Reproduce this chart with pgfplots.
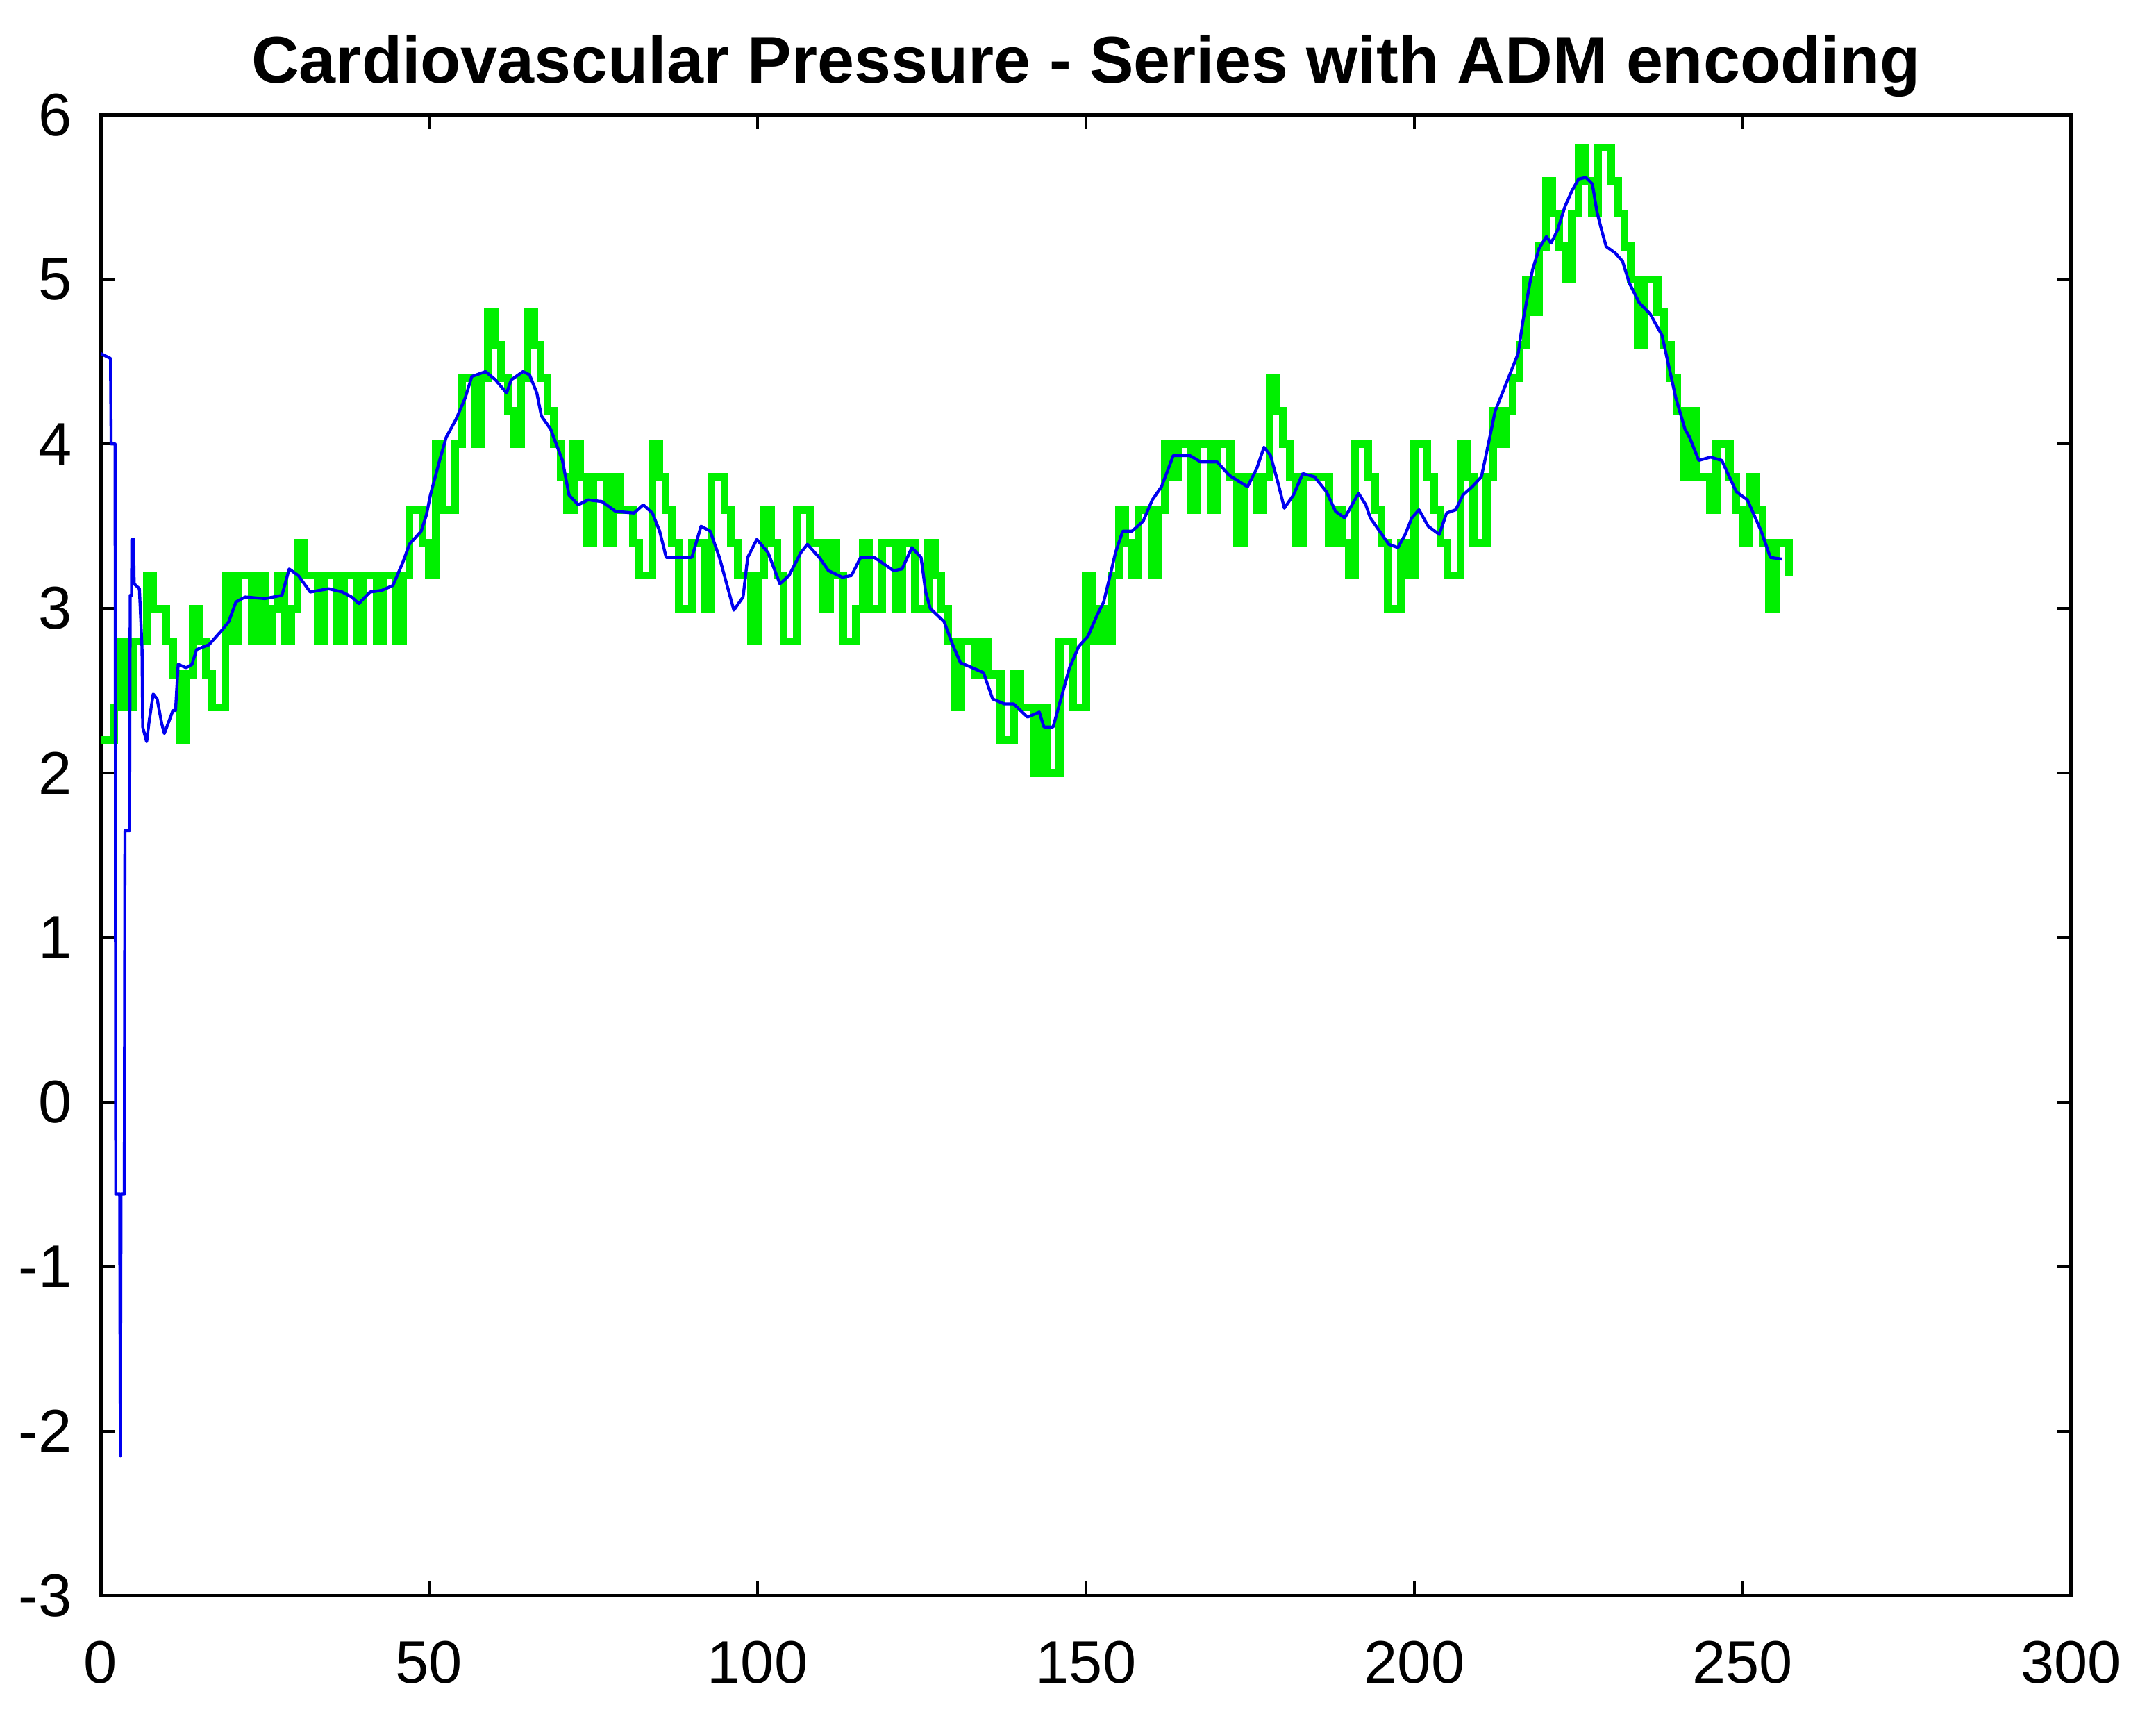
\documentclass[border=0pt]{standalone}
\usepackage{fontspec}
\setmainfont{Liberation Sans}
\usepackage{pgfplots}
\pgfplotsset{compat=1.18}
\definecolor{admgreen}{RGB}{0,240,0}
\definecolor{sigblue}{RGB}{0,0,240}
\begin{document}
\begin{tikzpicture}
\path[use as bounding box] (-16.74pt,-20.8pt) rectangle (341.8pt,265.3pt);
\begin{axis}[
  at={(0pt,0pt)}, anchor=south west,
  scale only axis, width=327.7pt, height=246.2pt,
  xmin=0, xmax=300, ymin=-3, ymax=6,
  xtick={0,50,...,300}, ytick={-3,-2,...,6},
  tick align=inside, major tick length=2.4pt,
  every tick/.style={black, line width=0.45pt},
  axis line style={black, line width=0.6pt},
  /pgf/number format/assume math mode=true,
  ticklabel style={font=\fontsize{10}{12}\selectfont, text=black},
  xticklabel style={yshift=-4pt},
  yticklabel style={xshift=-1.2pt},
  title={Cardiovascular Pressure - Series with ADM encoding},
  title style={font=\fontsize{11}{13}\selectfont\bfseries, at={(0.5,1)}, anchor=base, yshift=-0.7pt},
  clip=true,
]
\addplot[admgreen, line width=1.3pt, const plot mark left] coordinates {
(0,2.2)(1,2.2)(2,2.4)(3,2.8)(4,2.4)(5,2.8)(6,2.8)(7,3.2)(8,3.0)(9,3.0)
(10,2.8)(11,2.6)(12,2.2)(13,2.6)(14,3.0)(15,2.8)(16,2.6)(17,2.4)(18,2.4)(19,3.2)
(20,2.8)(21,3.2)(22,3.2)(23,2.8)(24,3.2)(25,2.8)(26,3.0)(27,3.2)(28,2.8)(29,3.0)
(30,3.4)(31,3.2)(32,3.2)(33,2.8)(34,3.2)(35,3.2)(36,2.8)(37,3.2)(38,3.2)(39,2.8)
(40,3.2)(41,3.2)(42,2.8)(43,3.2)(44,3.2)(45,2.8)(46,3.2)(47,3.6)(48,3.6)(49,3.4)
(50,3.2)(51,4.0)(52,3.6)(53,3.6)(54,4.0)(55,4.4)(56,4.4)(57,4.0)(58,4.4)(59,4.8)
(60,4.6)(61,4.4)(62,4.2)(63,4.0)(64,4.4)(65,4.8)(66,4.6)(67,4.4)(68,4.2)(69,4.0)
(70,3.8)(71,3.6)(72,4.0)(73,3.8)(74,3.4)(75,3.8)(76,3.8)(77,3.4)(78,3.8)(79,3.6)
(80,3.6)(81,3.4)(82,3.2)(83,3.2)(84,4.0)(85,3.8)(86,3.6)(87,3.4)(88,3.0)(89,3.0)
(90,3.4)(91,3.4)(92,3.0)(93,3.8)(94,3.8)(95,3.6)(96,3.4)(97,3.2)(98,3.2)(99,2.8)
(100,3.2)(101,3.6)(102,3.4)(103,3.2)(104,2.8)(105,2.8)(106,3.6)(107,3.6)(108,3.4)(109,3.4)
(110,3.0)(111,3.4)(112,3.2)(113,2.8)(114,2.8)(115,3.0)(116,3.4)(117,3.0)(118,3.0)(119,3.4)
(120,3.4)(121,3.0)(122,3.4)(123,3.4)(124,3.0)(125,3.0)(126,3.4)(127,3.2)(128,3.0)(129,2.8)
(130,2.4)(131,2.8)(132,2.8)(133,2.6)(134,2.8)(135,2.6)(136,2.6)(137,2.2)(138,2.2)(139,2.6)
(140,2.4)(141,2.4)(142,2.0)(143,2.4)(144,2.0)(145,2.0)(146,2.8)(147,2.8)(148,2.4)(149,2.4)
(150,3.2)(151,2.8)(152,3.0)(153,2.8)(154,3.2)(155,3.6)(156,3.4)(157,3.2)(158,3.6)(159,3.6)
(160,3.2)(161,3.6)(162,4.0)(163,3.8)(164,4.0)(165,4.0)(166,3.6)(167,4.0)(168,4.0)(169,3.6)
(170,4.0)(171,4.0)(172,3.8)(173,3.4)(174,3.8)(175,3.8)(176,3.6)(177,3.8)(178,4.4)(179,4.2)
(180,4.0)(181,3.8)(182,3.4)(183,3.8)(184,3.8)(185,3.8)(186,3.8)(187,3.4)(188,3.6)(189,3.4)
(190,3.2)(191,4.0)(192,4.0)(193,3.8)(194,3.6)(195,3.4)(196,3.0)(197,3.0)(198,3.4)(199,3.2)
(200,4.0)(201,4.0)(202,3.8)(203,3.6)(204,3.4)(205,3.2)(206,3.2)(207,4.0)(208,3.8)(209,3.4)
(210,3.4)(211,3.8)(212,4.2)(213,4.0)(214,4.2)(215,4.4)(216,4.6)(217,5.0)(218,4.8)(219,5.2)
(220,5.6)(221,5.4)(222,5.2)(223,5.0)(224,5.4)(225,5.8)(226,5.6)(227,5.4)(228,5.8)(229,5.8)
(230,5.6)(231,5.4)(232,5.2)(233,5.0)(234,4.6)(235,5.0)(236,5.0)(237,4.8)(238,4.6)(239,4.4)
(240,4.2)(241,3.8)(242,4.2)(243,3.8)(244,3.8)(245,3.6)(246,4.0)(247,4.0)(248,3.8)(249,3.6)
(250,3.4)(251,3.8)(252,3.6)(253,3.4)(254,3.0)(255,3.4)(256,3.4)(257,3.2)
};
\addplot[sigblue, line width=0.5pt, line join=round] coordinates {
(0.0,4.55)(1.5,4.52)(1.6,4.0)(2.2,4.0)(2.3,-0.56)(2.9,-0.56)(3.0,-2.15)(3.1,-0.56)(3.6,-0.56)
(3.7,1.65)(4.4,1.65)(4.5,3.08)(4.7,3.08)(4.75,3.42)(5.0,3.42)(5.1,3.15)(5.9,3.12)(6.3,2.76)
(6.4,2.28)(7.0,2.19)(7.4,2.32)(8.0,2.48)(8.6,2.45)(9.3,2.3)(9.7,2.24)(11.0,2.38)(11.4,2.38)
(11.8,2.66)(13.0,2.64)(13.9,2.66)(14.6,2.75)(16.5,2.78)(18.5,2.87)(19.5,2.92)(20.6,3.04)
(22,3.07)(25,3.06)(27.6,3.08)(28.7,3.24)(30.1,3.2)(31.9,3.1)(34.7,3.12)(36.8,3.1)(38.2,3.07)
(39.3,3.03)(41,3.1)(42.8,3.11)(44.5,3.14)(46,3.28)(47,3.39)(48.8,3.47)(49.6,3.57)(50.2,3.69)
(51.6,3.9)(52.6,4.04)(54.1,4.15)(55.5,4.28)(56.5,4.41)(58.6,4.44)(60.1,4.39)(61.8,4.31)
(62.5,4.39)(64.3,4.44)(65.3,4.42)(66.4,4.31)(67.1,4.17)(68.5,4.09)(70.3,3.9)(71.3,3.69)
(72.7,3.63)(74.2,3.66)(76.3,3.65)(78.4,3.59)(81.2,3.58)(82.6,3.63)(84,3.58)(85.1,3.47)
(86.1,3.31)(88.3,3.31)(90,3.31)(91.4,3.5)(92.8,3.47)(94.2,3.31)(95.3,3.15)(96.4,2.99)
(97.8,3.07)(98.5,3.31)(99.9,3.42)(101.6,3.34)(103.4,3.15)(104.8,3.2)(106.6,3.34)(107.6,3.39)
(109.4,3.31)(110.8,3.23)(112.9,3.19)(114.3,3.2)(115.7,3.31)(117.8,3.31)(120.7,3.23)(122,3.24)
(123.5,3.37)(124.9,3.31)(125.6,3.1)(126.3,3.0)(128.4,2.92)(129.8,2.77)(130.9,2.67)(132.7,2.64)
(134.4,2.61)(135.8,2.45)(137.6,2.42)(139,2.42)(141.1,2.34)(142.9,2.37)(143.6,2.28)(145,2.28)
(146.4,2.48)(147.5,2.64)(148.9,2.77)(150.3,2.83)(151.7,2.96)(152.7,3.04)(153.8,3.22)(154.5,3.34)
(155.6,3.47)(157,3.47)(158.7,3.53)(160.1,3.66)(161.5,3.74)(163.3,3.93)(165.8,3.93)(167.5,3.89)
(170,3.89)(171.8,3.81)(174.6,3.74)(176,3.85)(177.1,3.98)(178.1,3.93)(179.2,3.77)(180.2,3.61)
(181.6,3.69)(183,3.82)(184.8,3.8)(186.6,3.71)(188,3.59)(189.4,3.55)(190.5,3.63)(191.5,3.7)
(192.6,3.63)(193.3,3.55)(194.7,3.47)(196.1,3.39)(197.5,3.37)(198.6,3.45)(199.6,3.55)(200.7,3.6)
(202.1,3.5)(203.8,3.45)(204.9,3.58)(206.3,3.6)(207.4,3.69)(208.8,3.74)(210.2,3.8)(210.9,3.93)
(212.3,4.2)(213.4,4.31)(214.4,4.41)(215.8,4.55)(216.5,4.74)(217.6,4.98)(218,5.06)(219,5.19)
(220.1,5.26)(220.8,5.22)(221.8,5.3)(222.9,5.44)(224,5.54)(225,5.61)(226.1,5.62)(227.1,5.58)
(227.8,5.41)(228.5,5.3)(229.2,5.2)(230.6,5.16)(231.7,5.11)(232.7,4.98)(234.2,4.86)(235.9,4.79)
(237.7,4.66)(239.8,4.28)(241.2,4.09)(241.9,4.04)(243.3,3.9)(245.1,3.92)(246.8,3.9)(249,3.71)
(250.7,3.66)(252.8,3.47)(254.2,3.31)(256,3.3)
};
\end{axis}
\end{tikzpicture}
\end{document}
